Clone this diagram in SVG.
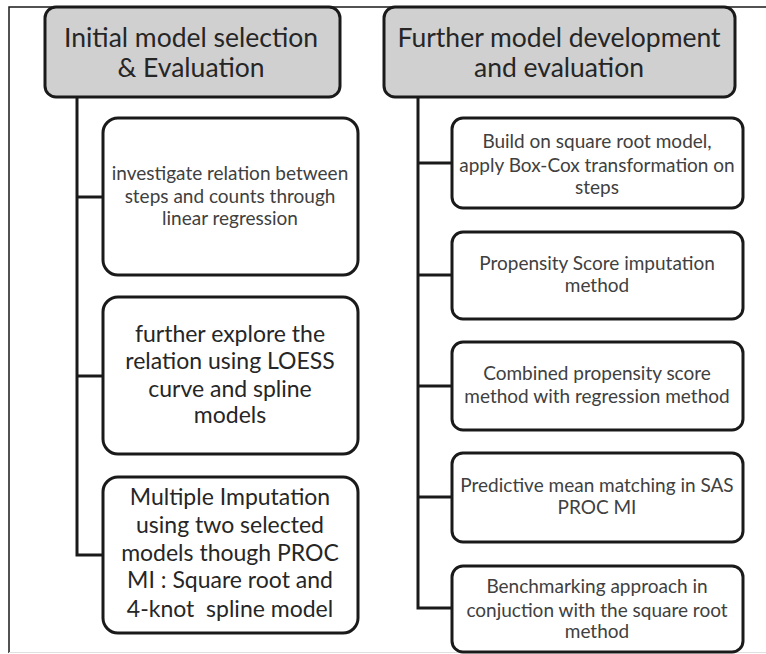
<svg xmlns="http://www.w3.org/2000/svg" width="766" height="654" viewBox="0 0 766 654">
<style>
.hdr{fill:#d0d0d0;stroke:#1a1a1a;stroke-width:3}
.box{fill:#ffffff;stroke:#1a1a1a;stroke-width:3}
.conn{fill:none;stroke:#1a1a1a;stroke-width:3}
.ht{font-family:Lato,"Open Sans",sans-serif;font-size:26.5px;fill:#262626;text-anchor:middle}
.st{font-family:Lato,"Open Sans",sans-serif;font-size:19px;fill:#404040;text-anchor:middle}
.lt{font-family:Lato,"Open Sans",sans-serif;font-size:23px;fill:#262626;text-anchor:middle}
</style>
<rect x="0" y="0" width="766" height="654" fill="#ffffff"/>
<g id="frame">
<path d="M9,653 V7 H766" fill="none" stroke="#1a1a1a" stroke-width="1.5"/>
<line x1="9" y1="652.5" x2="766" y2="652.5" stroke="#e0e0e0" stroke-width="1"/>
</g>
<g id="connectors">
<path class="conn" d="M77,97 V555 H103"/>
<path class="conn" d="M77,197 H103"/>
<path class="conn" d="M77,376 H103"/>
<path class="conn" d="M418,97 V608 H452"/>
<path class="conn" d="M418,163 H452"/>
<path class="conn" d="M418,275 H452"/>
<path class="conn" d="M418,386 H452"/>
<path class="conn" d="M418,497 H452"/>
</g>
<g id="header-left">
<rect class="hdr" x="45" y="7" width="295" height="90" rx="11"/>
<text class="ht" x="191" y="47">Initial model selection</text>
<text class="ht" x="191" y="77">&amp; Evaluation</text>
</g>
<g id="header-right">
<rect class="hdr" x="384" y="7" width="351" height="90" rx="11"/>
<text class="ht" x="559" y="47">Further model development</text>
<text class="ht" x="559" y="77">and evaluation</text>
</g>
<g id="left-1">
<rect class="box" x="103" y="118" width="255" height="157" rx="15"/>
<text class="st" x="230" y="180">investigate relation between</text>
<text class="st" x="230" y="203">steps and counts through</text>
<text class="st" x="230" y="225">linear regression</text>
</g>
<g id="left-2">
<rect class="box" x="103" y="297" width="255" height="157" rx="15"/>
<text class="lt" x="230" y="342">further explore the</text>
<text class="lt" x="230" y="369">relation using LOESS</text>
<text class="lt" x="230" y="397">curve and spline</text>
<text class="lt" x="230" y="423">models</text>
</g>
<g id="left-3">
<rect class="box" x="103" y="477" width="255" height="156" rx="15"/>
<text class="lt" x="230" y="505">Multiple Imputation</text>
<text class="lt" x="230" y="533">using two selected</text>
<text class="lt" x="230" y="561">models though PROC</text>
<text class="lt" x="230" y="588">MI : Square root and</text>
<text class="lt" x="230" y="617" xml:space="preserve">4-knot  spline model</text>
</g>
<g id="right-1">
<rect class="box" x="452" y="118" width="291" height="90" rx="11"/>
<text class="st" x="597" y="148">Build on square root model,</text>
<text class="st" x="597" y="172">apply Box-Cox transformation on</text>
<text class="st" x="597" y="194">steps</text>
</g>
<g id="right-2">
<rect class="box" x="452" y="232" width="291" height="87" rx="11"/>
<text class="st" x="597" y="270">Propensity Score imputation</text>
<text class="st" x="597" y="292">method</text>
</g>
<g id="right-3">
<rect class="box" x="452" y="342" width="291" height="88" rx="11"/>
<text class="st" x="597" y="380">Combined propensity score</text>
<text class="st" x="597" y="403">method with regression method</text>
</g>
<g id="right-4">
<rect class="box" x="452" y="453" width="291" height="89" rx="11"/>
<text class="st" x="597" y="492">Predictive mean matching in SAS</text>
<text class="st" x="597" y="514">PROC MI</text>
</g>
<g id="right-5">
<rect class="box" x="452" y="566" width="291" height="86" rx="11"/>
<text class="st" x="597" y="593">Benchmarking approach in</text>
<text class="st" x="597" y="617">conjuction with the square root</text>
<text class="st" x="597" y="638">method</text>
</g>
</svg>
